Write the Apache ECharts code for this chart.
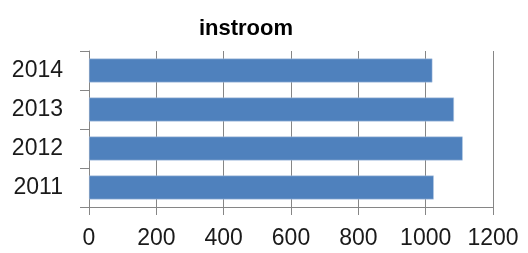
<!DOCTYPE html>
<html>
<head>
<meta charset="utf-8">
<script src="https://cdn.jsdelivr.net/npm/echarts@6/dist/echarts.min.js"></script>
<style>
  html, body { margin: 0; padding: 0; background: #fff; }
  #chart { width: 528px; height: 253px; }
</style>
</head>
<body>
<div id="chart"></div>
<script>
// data
var years = ['2011', '2012', '2013', '2014'];
var instroom = [1024, 1110, 1084, 1020];
var xTicks = { min: 0, max: 1200, step: 200 };

var chart = echarts.init(document.getElementById('chart'), null, { renderer: 'canvas' });
var font = '"Liberation Sans", Arial, sans-serif';

chart.setOption({
  animation: false,
  title: {
    text: 'instroom',
    left: 246,
    top: 18,
    textAlign: 'center',
    padding: 0,
    textStyle: { fontFamily: font, fontSize: 22, fontWeight: 'bold', color: '#000' }
  },
  grid: { left: 89, right: 35, top: 51, bottom: 46, containLabel: false },
  xAxis: {
    type: 'value',
    min: xTicks.min,
    max: xTicks.max,
    interval: xTicks.step,
    axisLine: { show: true, lineStyle: { color: '#868686' } },
    axisTick: { show: true, length: 8, lineStyle: { color: '#868686' } },
    splitLine: { show: true, lineStyle: { color: '#868686', width: 1 } },
    axisLabel: {
      color: '#1a1a1a', fontFamily: font, fontSize: 23, margin: 20,
      formatter: function (v) { return String(v); }
    }
  },
  yAxis: {
    type: 'category',
    data: years,
    axisLine: { show: true, lineStyle: { color: '#868686' } },
    axisTick: { show: true, length: 9, lineStyle: { color: '#868686' } },
    axisLabel: { color: '#1a1a1a', fontFamily: font, fontSize: 23, margin: 26 }
  },
  series: [{
    type: 'bar',
    data: instroom,
    barWidth: '61%',
    itemStyle: { color: '#4F81BD', borderColor: '#B9CDE5', borderWidth: 0.5 }
  }]
});
</script>
</body>
</html>
